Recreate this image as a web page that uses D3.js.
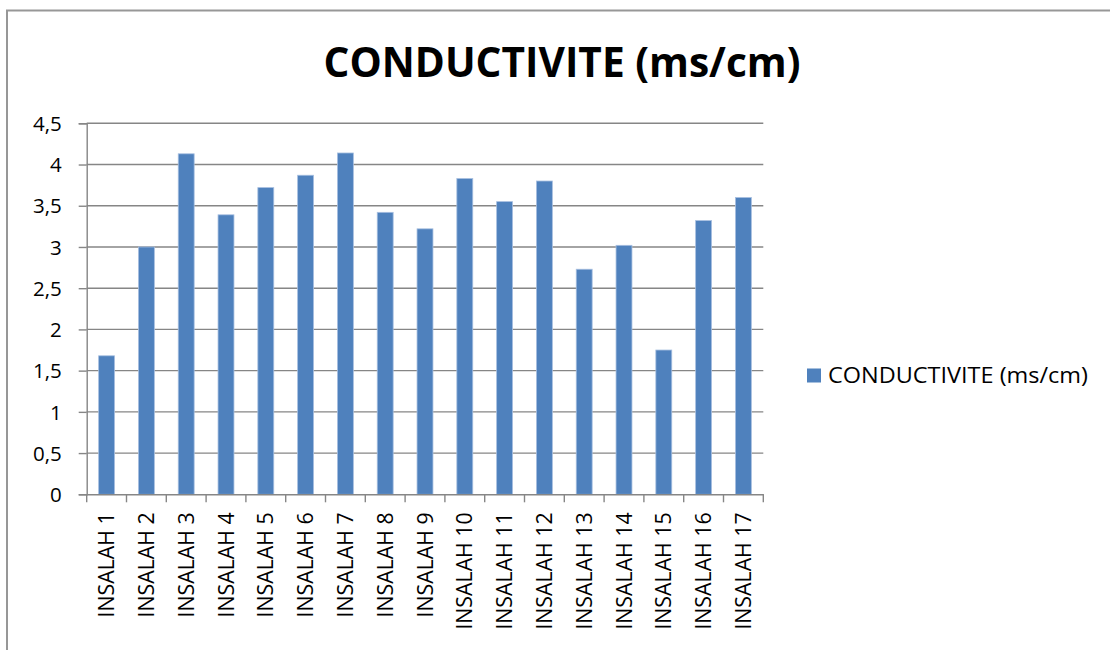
<!DOCTYPE html>
<html>
<head>
<meta charset="utf-8">
<script src="https://cdn.jsdelivr.net/npm/d3@7"></script>
<style>
  html, body { margin: 0; padding: 0; background: #fff; }
  svg { display: block; }
  text { font-family: "Open Sans", "Liberation Sans", sans-serif; fill: #000; }
</style>
</head>
<body>
<svg id="chart" width="1110" height="650"></svg>
<script>
const categories = ["INSALAH 1","INSALAH 2","INSALAH 3","INSALAH 4","INSALAH 5","INSALAH 6","INSALAH 7","INSALAH 8","INSALAH 9","INSALAH 10","INSALAH 11","INSALAH 12","INSALAH 13","INSALAH 14","INSALAH 15","INSALAH 16","INSALAH 17"];
const values = [1.68, 3.00, 4.13, 3.39, 3.72, 3.87, 4.14, 3.42, 3.22, 3.83, 3.55, 3.80, 2.73, 3.02, 1.75, 3.32, 3.60];
const yTicks = [0, 0.5, 1, 1.5, 2, 2.5, 3, 3.5, 4, 4.5];
const yTickLabels = ["0", "0,5", "1", "1,5", "2", "2,5", "3", "3,5", "4", "4,5"];
const seriesName = "CONDUCTIVITE (ms/cm)";
const titleText = "CONDUCTIVITE (ms/cm)";

const svg = d3.select("#chart");
const margin = { left: 86.7, right: 763.3, top: 123.3, bottom: 494.3 };
const gridColor = "#868686";
const barColor = "#4F81BD";

// outer border
svg.append("rect").attr("x", 7).attr("y", 10.5).attr("width", 1200).attr("height", 700)
  .attr("fill", "none").attr("stroke", "#979797").attr("stroke-width", 2);

const x = d3.scaleBand().domain(categories).range([margin.left, margin.right]).paddingInner(0.6).paddingOuter(0.3);
const xb = d3.scaleBand().domain(categories).range([margin.left, margin.right]).padding(0);
const y = d3.scaleLinear().domain([0, 4.5]).range([margin.bottom, margin.top]);

// gridlines
svg.append("g").selectAll("line").data(yTicks.filter(d => d > 0)).join("line")
  .attr("x1", margin.left).attr("x2", margin.right)
  .attr("y1", d => y(d)).attr("y2", d => y(d))
  .attr("stroke", gridColor).attr("stroke-width", 1.4);

// y axis
const yAxis = d3.axisLeft(y).tickValues(yTicks).tickSize(8).tickPadding(17)
  .tickFormat((d, i) => yTickLabels[i]);
const yg = svg.append("g").attr("transform", `translate(${margin.left},0)`).call(yAxis);
yg.attr("font-family", null).attr("font-size", null);
yg.select(".domain").attr("stroke", gridColor).attr("stroke-width", 1.4);
yg.selectAll(".tick line").attr("stroke", gridColor).attr("stroke-width", 1.4);
yg.selectAll(".tick text").attr("font-size", 20.5).attr("dy", "0.35em");

// bars
svg.append("g").selectAll("rect").data(values).join("rect")
  .attr("x", (d, i) => x(categories[i]))
  .attr("width", x.bandwidth())
  .attr("y", d => y(d))
  .attr("height", d => y(0) - y(d))
  .attr("fill", barColor)
  .attr("stroke", "#a7bfe0").attr("stroke-width", 0.8);

// x axis
const xAxis = d3.axisBottom(xb).tickSize(0).tickFormat(d => d);
const xg = svg.append("g").attr("transform", `translate(0,${margin.bottom})`).call(xAxis);
xg.attr("font-family", null).attr("font-size", null);
xg.select(".domain").attr("stroke", gridColor).attr("stroke-width", 1.4);
xg.selectAll(".tick text").attr("font-size", 21.3)
  .attr("text-anchor", "end")
  .attr("transform", "rotate(-90)")
  .attr("x", -18).attr("y", 0).attr("dy", "0.36em");
// boundary ticks
const bounds = categories.map(c => xb(c)).concat([margin.right]);
svg.append("g").selectAll("line").data(bounds).join("line")
  .attr("x1", d => d).attr("x2", d => d)
  .attr("y1", margin.bottom).attr("y2", margin.bottom + 8)
  .attr("stroke", gridColor).attr("stroke-width", 1.4);

// title
svg.append("text").attr("x", 562).attr("y", 77).attr("text-anchor", "middle")
  .attr("font-weight", "bold").attr("font-size", 42).text(titleText)
  .attr("textLength", 477).attr("lengthAdjust", "spacingAndGlyphs");

// legend
svg.append("rect").attr("x", 807).attr("y", 368.5).attr("width", 14).attr("height", 14).attr("fill", barColor);
svg.append("text").attr("x", 828).attr("y", 375.5).attr("dy", "0.36em")
  .attr("font-size", 22).text(seriesName)
  .attr("textLength", 260).attr("lengthAdjust", "spacingAndGlyphs");
</script>
</body>
</html>
